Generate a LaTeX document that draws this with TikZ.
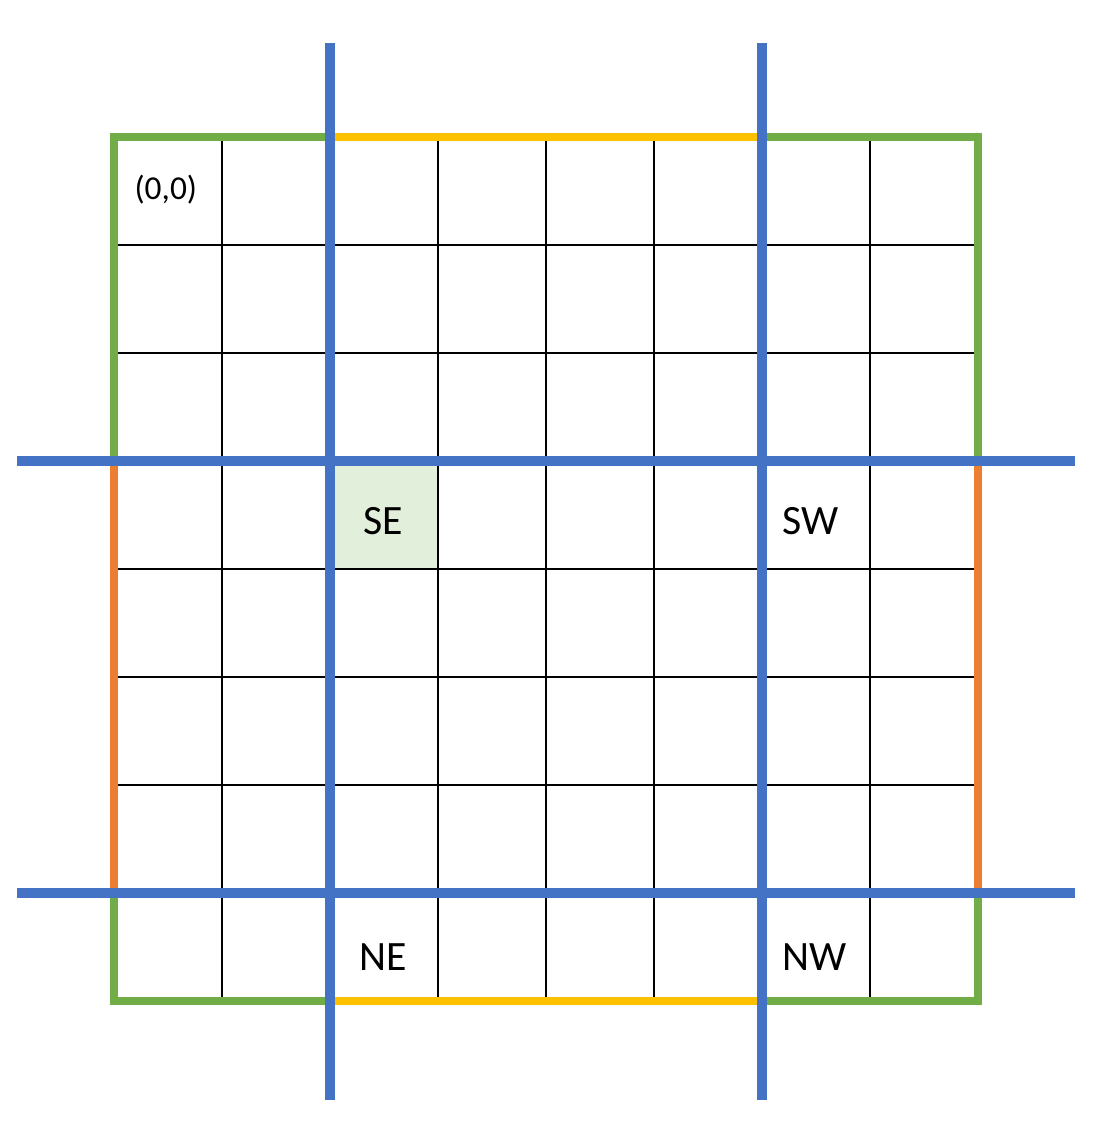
\documentclass[tikz,border=0pt]{standalone}
\usepackage{fontspec}
\setmainfont{Carlito}
\usepackage{tikz}
\usetikzlibrary{positioning}

\definecolor{cutblue}{HTML}{4472C4}
\definecolor{cornergreen}{HTML}{70AD47}
\definecolor{edgeorange}{HTML}{ED7D31}
\definecolor{edgeyellow}{HTML}{FFC000}
\definecolor{cellgreen}{HTML}{E2EFDA}

\begin{document}
\begin{tikzpicture}[
        gridline/.style={draw=black, line width=0.65pt},
        corner/.style={draw=cornergreen, line width=2.1pt, line join=miter},
        sideedge/.style={draw=edgeorange, line width=2.1pt},
        topedge/.style={draw=edgeyellow, line width=1.9pt},
        cutline/.style={draw=cutblue, line width=2.6pt},
        celllabel/.style={font=\fontsize{11}{13}\selectfont, inner sep=0pt}
    ]
    \useasboundingbox (-1.0556,-1.3056) rectangle (9.0741,9.2685);

    % ---- Highlighted cell and 8x8 grid ----
    \fill[cellgreen] (2,4) rectangle (3,5);
    \draw[gridline] (0,0) grid (8,8);

    % ---- Outer border: green corners, yellow top/bottom, orange sides ----
    \draw[corner] (2,8) -- (0,8) -- (0,5);
    \draw[corner] (6,8) -- (8,8) -- (8,5);
    \draw[corner] (0,1) -- (0,0) -- (2,0);
    \draw[corner] (8,1) -- (8,0) -- (6,0);
    \draw[topedge] (2,8) -- (6,8);
    \draw[topedge] (2,0) -- (6,0);
    \draw[sideedge] (0,5) -- (0,1);
    \draw[sideedge] (8,5) -- (8,1);

    % ---- Blue cut lines ----
    \draw[cutline] (2,-0.917) -- (2,8.870);
    \draw[cutline] (6,-0.917) -- (6,8.870);
    \draw[cutline] (-0.898,5) -- (8.898,5);
    \draw[cutline] (-0.898,1) -- (8.898,1);

    % ---- Labels ----
    \node[celllabel, font=\fontsize{8.8}{10}\selectfont] (origin) at (0.48,7.51) {(0,0)};
    \node[celllabel] (se) at (2.49,4.44) {SE};
    \node[celllabel] (sw) at (6.45,4.44) {SW};
    \node[celllabel] (ne) at (2.49,0.41) {NE};
    \node[celllabel] (nw) at (6.49,0.41) {NW};

    \end{tikzpicture}
\end{document}
